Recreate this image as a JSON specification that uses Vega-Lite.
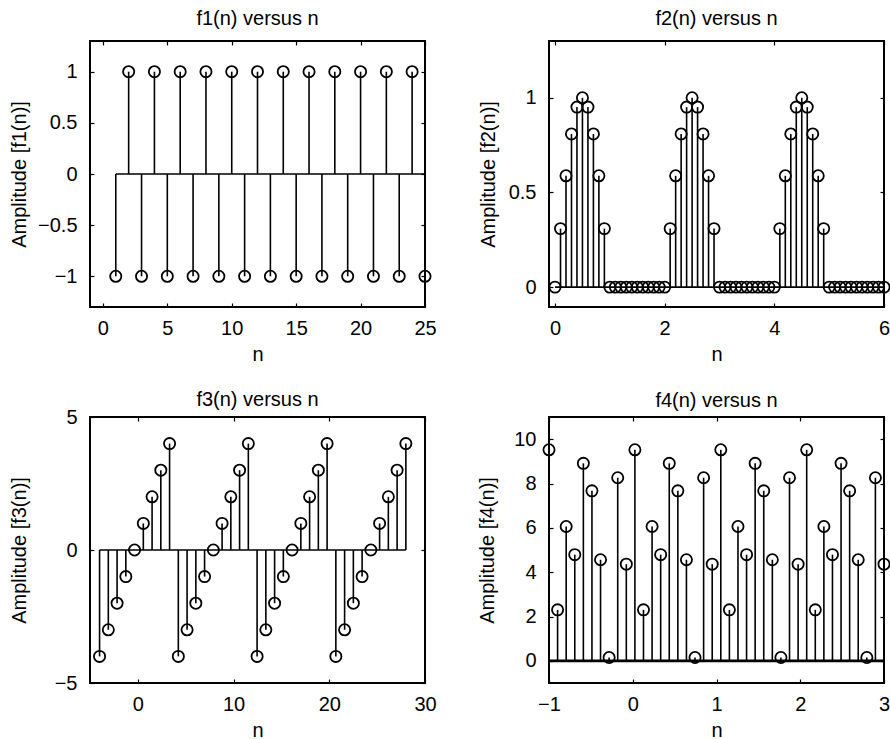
{
  "$schema": "https://vega.github.io/schema/vega-lite/v6.json",
  "background": "white",
  "padding": {"left": 8, "top": 8, "right": 5, "bottom": 5},
  "config": {
    "font": "Liberation Sans",
    "view": {"stroke": "black", "strokeWidth": 2},
    "axis": {
      "domain": false, "grid": false, "ticks": true, "tickSize": -4, "tickColor": "black", "tickWidth": 1.2,
      "labelFlush": false, "labelOverlap": false, "labelPadding": 15, "labelFontSize": 20, "labelColor": "black",
      "labelFont": "Liberation Sans", "titleFont": "Liberation Sans",
      "titleFontSize": 20, "titleFontWeight": "normal", "titleColor": "black", "titlePadding": 6
    },
    "axisY": {"labelPadding": 17, "titlePadding": 8},
    "title": {"fontSize": 20, "fontWeight": "normal", "color": "black", "offset": 11, "frame": "group", "font": "Liberation Sans"}
  },
  "datasets": {
    "f1": [
      {"n":1,"v":-1},{"n":2,"v":1},{"n":3,"v":-1},{"n":4,"v":1},{"n":5,"v":-1},{"n":6,"v":1},{"n":7,"v":-1},{"n":8,"v":1},{"n":9,"v":-1},{"n":10,"v":1},
      {"n":11,"v":-1},{"n":12,"v":1},{"n":13,"v":-1},{"n":14,"v":1},{"n":15,"v":-1},{"n":16,"v":1},{"n":17,"v":-1},{"n":18,"v":1},{"n":19,"v":-1},{"n":20,"v":1},
      {"n":21,"v":-1},{"n":22,"v":1},{"n":23,"v":-1},{"n":24,"v":1},{"n":25,"v":-1}
    ],
    "f2": [
      {"n":0,"v":0},{"n":0.1,"v":0.309},{"n":0.2,"v":0.588},{"n":0.3,"v":0.809},{"n":0.4,"v":0.951},{"n":0.5,"v":1},{"n":0.6,"v":0.951},{"n":0.7,"v":0.809},{"n":0.8,"v":0.588},{"n":0.9,"v":0.309},
      {"n":1,"v":0},{"n":1.1,"v":0},{"n":1.2,"v":0},{"n":1.3,"v":0},{"n":1.4,"v":0},{"n":1.5,"v":0},{"n":1.6,"v":0},{"n":1.7,"v":0},{"n":1.8,"v":0},{"n":1.9,"v":0},
      {"n":2,"v":0},{"n":2.1,"v":0.309},{"n":2.2,"v":0.588},{"n":2.3,"v":0.809},{"n":2.4,"v":0.951},{"n":2.5,"v":1},{"n":2.6,"v":0.951},{"n":2.7,"v":0.809},{"n":2.8,"v":0.588},{"n":2.9,"v":0.309},
      {"n":3,"v":0},{"n":3.1,"v":0},{"n":3.2,"v":0},{"n":3.3,"v":0},{"n":3.4,"v":0},{"n":3.5,"v":0},{"n":3.6,"v":0},{"n":3.7,"v":0},{"n":3.8,"v":0},{"n":3.9,"v":0},
      {"n":4,"v":0},{"n":4.1,"v":0.309},{"n":4.2,"v":0.588},{"n":4.3,"v":0.809},{"n":4.4,"v":0.951},{"n":4.5,"v":1},{"n":4.6,"v":0.951},{"n":4.7,"v":0.809},{"n":4.8,"v":0.588},{"n":4.9,"v":0.309},
      {"n":5,"v":0},{"n":5.1,"v":0},{"n":5.2,"v":0},{"n":5.3,"v":0},{"n":5.4,"v":0},{"n":5.5,"v":0},{"n":5.6,"v":0},{"n":5.7,"v":0},{"n":5.8,"v":0},{"n":5.9,"v":0},
      {"n":6,"v":0}
    ],
    "f3": [
      {"n":-4,"v":-4},{"n":-3.086,"v":-3},{"n":-2.171,"v":-2},{"n":-1.257,"v":-1},{"n":-0.343,"v":0},{"n":0.571,"v":1},{"n":1.486,"v":2},{"n":2.4,"v":3},{"n":3.314,"v":4},
      {"n":4.229,"v":-4},{"n":5.143,"v":-3},{"n":6.057,"v":-2},{"n":6.971,"v":-1},{"n":7.886,"v":0},{"n":8.8,"v":1},{"n":9.714,"v":2},{"n":10.629,"v":3},{"n":11.543,"v":4},
      {"n":12.457,"v":-4},{"n":13.371,"v":-3},{"n":14.286,"v":-2},{"n":15.2,"v":-1},{"n":16.114,"v":0},{"n":17.029,"v":1},{"n":17.943,"v":2},{"n":18.857,"v":3},{"n":19.771,"v":4},
      {"n":20.686,"v":-4},{"n":21.6,"v":-3},{"n":22.514,"v":-2},{"n":23.429,"v":-1},{"n":24.343,"v":0},{"n":25.257,"v":1},{"n":26.171,"v":2},{"n":27.086,"v":3},{"n":28,"v":4}
    ],
    "f4": [
      {"n":-1,"v":9.52},{"n":-0.8974,"v":2.3},{"n":-0.7949,"v":6.06},{"n":-0.6923,"v":4.79},{"n":-0.5897,"v":8.91},{"n":-0.4872,"v":7.67},{"n":-0.3846,"v":4.56},{"n":-0.2821,"v":0.15},{"n":-0.1795,"v":8.26},{"n":-0.0769,"v":4.36},
      {"n":0.0256,"v":9.52},{"n":0.1282,"v":2.3},{"n":0.2308,"v":6.06},{"n":0.3333,"v":4.79},{"n":0.4359,"v":8.91},{"n":0.5385,"v":7.67},{"n":0.641,"v":4.56},{"n":0.7436,"v":0.15},{"n":0.8462,"v":8.26},{"n":0.9487,"v":4.36},
      {"n":1.0513,"v":9.52},{"n":1.1538,"v":2.3},{"n":1.2564,"v":6.06},{"n":1.359,"v":4.79},{"n":1.4615,"v":8.91},{"n":1.5641,"v":7.67},{"n":1.6667,"v":4.56},{"n":1.7692,"v":0.15},{"n":1.8718,"v":8.26},{"n":1.9744,"v":4.36},
      {"n":2.0769,"v":9.52},{"n":2.1795,"v":2.3},{"n":2.2821,"v":6.06},{"n":2.3846,"v":4.79},{"n":2.4872,"v":8.91},{"n":2.5897,"v":7.67},{"n":2.6923,"v":4.56},{"n":2.7949,"v":0.15},{"n":2.8974,"v":8.26},{"n":3,"v":4.36}
    ]
  },
  "columns": 2,
  "bounds": "flush",
  "spacing": {"row": 110, "column": 124},
  "concat": [
    {
      "title": {"text": "f1(n) versus n", "offset": 11},
      "width": 335, "height": 266,
      "data": {"name": "f1"},
      "layer": [
        {"mark": {"type": "rule", "color": "black", "strokeWidth": 1.6},
         "encoding": {
           "x": {"aggregate": "min", "field": "n", "type": "quantitative", "axis": null},
           "x2": {"aggregate": "max", "field": "n"},
           "y": {"datum": 0, "type": "quantitative", "axis": null}}},
        {"mark": {"type": "rule", "color": "black", "strokeWidth": 1.6},
         "encoding": {
           "x": {"field": "n", "type": "quantitative", "scale": {"domain": [-1, 25], "nice": false, "zero": false},
                 "axis": {"values": [0, 5, 10, 15, 20, 25], "format": ".2~f", "title": "n"}},
           "y": {"field": "v", "type": "quantitative", "scale": {"domain": [-1.3, 1.3], "nice": false, "zero": false},
                 "axis": {"values": [-1, -0.5, 0, 0.5, 1], "format": ".2~f", "title": "Amplitude [f1(n)]", "titlePadding": 8}},
           "y2": {"datum": 0}}},
        {"mark": {"type": "point", "shape": "circle", "filled": false, "color": "black", "size": 125, "strokeWidth": 1.8, "opacity": 1},
         "encoding": {
           "x": {"field": "n", "type": "quantitative", "axis": {"orient": "top", "values": [0, 5, 10, 15, 20, 25], "labels": false, "title": null}},
           "y": {"field": "v", "type": "quantitative", "axis": {"orient": "right", "values": [-1, -0.5, 0, 0.5, 1], "labels": false, "title": null}}}}
      ],
      "resolve": {"axis": {"x": "independent", "y": "independent"}}
    },
    {
      "title": {"text": "f2(n) versus n", "offset": 11},
      "width": 335, "height": 266,
      "data": {"name": "f2"},
      "layer": [
        {"mark": {"type": "rule", "color": "black", "strokeWidth": 1.6},
         "encoding": {
           "x": {"aggregate": "min", "field": "n", "type": "quantitative", "axis": null},
           "x2": {"aggregate": "max", "field": "n"},
           "y": {"datum": 0, "type": "quantitative", "axis": null}}},
        {"mark": {"type": "rule", "color": "black", "strokeWidth": 1.6},
         "encoding": {
           "x": {"field": "n", "type": "quantitative", "scale": {"domain": [-0.11, 6], "nice": false, "zero": false},
                 "axis": {"values": [0, 2, 4, 6], "format": ".2~f", "title": "n"}},
           "y": {"field": "v", "type": "quantitative", "scale": {"domain": [-0.105, 1.3], "nice": false, "zero": false},
                 "axis": {"values": [0, 0.5, 1], "format": ".2~f", "title": "Amplitude [f2(n)]", "titlePadding": 10}},
           "y2": {"datum": 0}}},
        {"mark": {"type": "point", "shape": "circle", "filled": false, "color": "black", "size": 125, "strokeWidth": 1.8, "opacity": 1},
         "encoding": {
           "x": {"field": "n", "type": "quantitative", "axis": {"orient": "top", "values": [0, 2, 4, 6], "labels": false, "title": null}},
           "y": {"field": "v", "type": "quantitative", "axis": {"orient": "right", "values": [0, 0.5, 1], "labels": false, "title": null}}}}
      ],
      "resolve": {"axis": {"x": "independent", "y": "independent"}}
    },
    {
      "title": {"text": "f3(n) versus n", "offset": -3},
      "width": 335, "height": 266,
      "data": {"name": "f3"},
      "layer": [
        {"mark": {"type": "rule", "color": "black", "strokeWidth": 1.6},
         "encoding": {
           "x": {"aggregate": "min", "field": "n", "type": "quantitative", "axis": null},
           "x2": {"aggregate": "max", "field": "n"},
           "y": {"datum": 0, "type": "quantitative", "axis": null}}},
        {"mark": {"type": "rule", "color": "black", "strokeWidth": 1.6},
         "encoding": {
           "x": {"field": "n", "type": "quantitative", "scale": {"domain": [-5, 30], "nice": false, "zero": false},
                 "axis": {"values": [0, 10, 20, 30], "format": ".2~f", "title": "n"}},
           "y": {"field": "v", "type": "quantitative", "scale": {"domain": [-5, 5], "nice": false, "zero": false},
                 "axis": {"values": [-5, 0, 5], "format": ".2~f", "title": "Amplitude [f3(n)]", "titlePadding": 25}},
           "y2": {"datum": 0}}},
        {"mark": {"type": "point", "shape": "circle", "filled": false, "color": "black", "size": 125, "strokeWidth": 1.8, "opacity": 1},
         "encoding": {
           "x": {"field": "n", "type": "quantitative", "axis": {"orient": "top", "values": [0, 10, 20, 30], "labels": false, "title": null}},
           "y": {"field": "v", "type": "quantitative", "axis": {"orient": "right", "values": [-5, 0, 5], "labels": false, "title": null}}}}
      ],
      "resolve": {"axis": {"x": "independent", "y": "independent"}}
    },
    {
      "title": {"text": "f4(n) versus n", "offset": 5},
      "width": 335, "height": 266,
      "data": {"name": "f4"},
      "layer": [
        {"mark": {"type": "rule", "color": "black", "strokeWidth": 2.6},
         "encoding": {
           "x": {"aggregate": "min", "field": "n", "type": "quantitative", "axis": null},
           "x2": {"aggregate": "max", "field": "n"},
           "y": {"datum": 0, "type": "quantitative", "axis": null}}},
        {"mark": {"type": "rule", "color": "black", "strokeWidth": 1.6},
         "encoding": {
           "x": {"field": "n", "type": "quantitative", "scale": {"domain": [-1, 3], "nice": false, "zero": false},
                 "axis": {"values": [-1, 0, 1, 2, 3], "format": ".2~f", "title": "n"}},
           "y": {"field": "v", "type": "quantitative", "scale": {"domain": [-1, 11], "nice": false, "zero": false},
                 "axis": {"values": [0, 2, 4, 6, 8, 10], "format": ".2~f", "title": "Amplitude [f4(n)]", "titlePadding": 16}},
           "y2": {"datum": 0}}},
        {"mark": {"type": "point", "shape": "circle", "filled": false, "color": "black", "size": 125, "strokeWidth": 1.8, "opacity": 1},
         "encoding": {
           "x": {"field": "n", "type": "quantitative", "axis": {"orient": "top", "values": [-1, 0, 1, 2, 3], "labels": false, "title": null}},
           "y": {"field": "v", "type": "quantitative", "axis": {"orient": "right", "values": [0, 2, 4, 6, 8, 10], "labels": false, "title": null}}}}
      ],
      "resolve": {"axis": {"x": "independent", "y": "independent"}}
    }
  ]
}
